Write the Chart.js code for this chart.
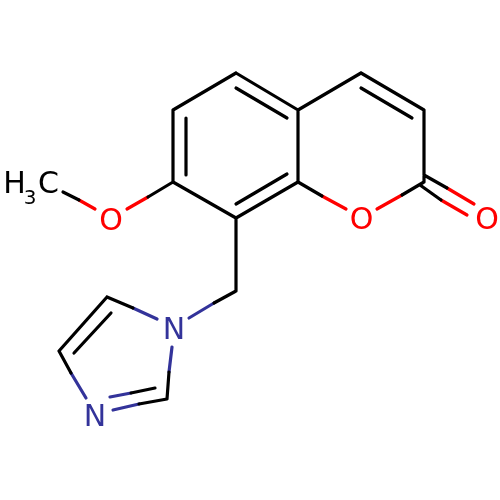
<!DOCTYPE html>
<html>
<head>
<meta charset="utf-8">
<style>
body { margin: 0; background: #fff; }
canvas { display: block; }
</style>
<script src="https://cdn.jsdelivr.net/npm/chart.js@4"></script>
</head>
<body>
<canvas id="chart" width="500" height="500"></canvas>
<script>
// Bond pieces as [x1, y1, x2, y2], split by atom colour
const blackBonds = [
    [236, 73, 298, 110], [298, 110, 298, 182], [298, 182, 236, 218],
    [236, 218, 173, 182], [173, 182, 173, 110], [173, 110, 236, 73],
    [236, 88, 287, 118], [236, 204, 287, 174], [186, 118, 186, 175],
    [298, 110, 361, 73], [361, 73, 424, 110], [424, 110, 424, 182],
    [361, 88, 412, 118],
    [298, 182, 322, 196], [424, 182, 402, 195],
    [424, 175, 447, 188], [420, 185, 441, 200],
    [173, 182, 148, 197], [63, 192, 79, 200],
    [236, 218, 236, 291], [236, 291, 214, 303],
    [107, 297, 133, 308], [107, 297, 59, 351], [111, 313, 74, 353],
    [59, 351, 71, 373], [167, 399, 169, 372],
    [167, 399, 139, 404], [155, 388, 131, 393]
];
const redBonds = [
    [322, 196, 346, 209], [402, 195, 377, 209],
    [447, 188, 474, 204], [441, 200, 467, 215],
    [148, 197, 127, 209], [79, 200, 95, 209]
];
const blueBonds = [
    [214, 303, 189, 318], [133, 308, 157, 319],
    [71, 373, 86, 398], [169, 372, 172, 347],
    [139, 404, 113, 410], [131, 393, 110, 397]
];

// Atom labels, y is the text baseline
const labelText = ['O', 'O', 'O', 'N', 'N', 'H', 'C'];
const labelX = [111, 361.5, 487, 174, 95, 14.5, 48.5];
const labelY = [230, 229, 229, 339, 426, 193, 193];
const labelColor = ['#ff0000', '#ff0000', '#ff0000', '#33339a', '#33339a', '#000000', '#000000'];

// Subscript of H3C
const subText = ['3'];
const subX = [30];
const subY = [204];

const toLine = bonds => bonds.flatMap(b => [
    { x: b[0], y: b[1] }, { x: b[2], y: b[3] }, { x: null, y: null }
]);

const bondDataset = (bonds, color) => ({
    data: toLine(bonds),
    showLine: true,
    spanGaps: false,
    borderColor: color,
    borderWidth: 3.2,
    borderCapStyle: 'round',
    pointRadius: 0
});

const atomLabels = {
    id: 'atomLabels',
    afterDatasetsDraw(chart) {
        const { ctx, scales } = chart;
        ctx.save();
        ctx.textAlign = 'center';
        ctx.textBaseline = 'alphabetic';
        ctx.font = '30px "DejaVu Sans"';
        labelText.forEach((t, i) => {
            ctx.fillStyle = labelColor[i];
            ctx.fillText(t, scales.x.getPixelForValue(labelX[i]), scales.y.getPixelForValue(labelY[i]));
        });
        ctx.font = '20px "DejaVu Sans"';
        ctx.fillStyle = '#000000';
        subText.forEach((t, i) => {
            ctx.fillText(t, scales.x.getPixelForValue(subX[i]), scales.y.getPixelForValue(subY[i]));
        });
        ctx.restore();
    }
};

new Chart(document.getElementById('chart'), {
    type: 'scatter',
    data: {
        datasets: [
            bondDataset(blackBonds, '#000000'),
            bondDataset(redBonds, '#ff0000'),
            bondDataset(blueBonds, '#33339a')
        ]
    },
    options: {
        responsive: false,
        animation: false,
        devicePixelRatio: 1,
        layout: { padding: 0 },
        plugins: { legend: { display: false }, tooltip: { enabled: false } },
        scales: {
            x: { type: 'linear', min: 0, max: 500, display: false },
            y: { type: 'linear', min: 0, max: 500, reverse: true, display: false }
        }
    },
    plugins: [atomLabels]
});
</script>
</body>
</html>
